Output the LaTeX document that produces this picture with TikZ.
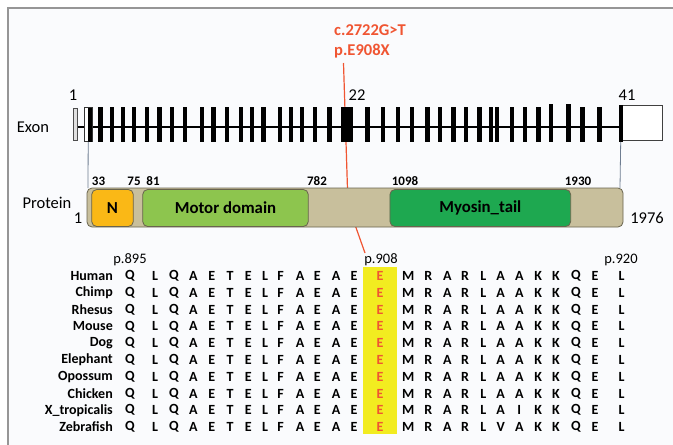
\documentclass[tikz,border=0pt]{standalone}
\usepackage{fontspec}
\setmainfont{Carlito}
\definecolor{bgc}{RGB}{250,251,253}
\definecolor{framec}{RGB}{150,150,150}
\definecolor{tanc}{RGB}{200,191,156}
\definecolor{protb}{RGB}{105,100,78}
\definecolor{nc}{RGB}{250,184,22}
\definecolor{motorc}{RGB}{141,197,78}
\definecolor{tailc}{RGB}{30,168,80}
\definecolor{redc}{RGB}{240,85,50}
\definecolor{yelc}{RGB}{242,236,32}
\definecolor{linkc}{RGB}{110,125,145}
\begin{document}
\begin{tikzpicture}[x=1pt,y=-1pt,
  lab/.style={inner sep=0pt,font=\fontsize{16.5}{18}\selectfont},
  num/.style={inner sep=0pt,font=\fontsize{13}{15}\selectfont\bfseries},
  dom/.style={inner sep=0pt,rounded corners=5pt,draw=protb,line width=0.8pt,minimum height=37pt},
  domtxt/.style={font=\fontsize{16.8}{18}\selectfont\bfseries},
  res/.style={inner sep=0pt,font=\fontsize{14}{16}\selectfont\bfseries},
  posl/.style={inner sep=0pt,font=\fontsize{14.5}{16}\selectfont},
  redlab/.style={inner sep=0pt,anchor=base west,text=redc,font=\fontsize{16.5}{18}\selectfont\bfseries}]
\useasboundingbox (0,0) rectangle (673,445);
\fill[white] (0,0) rectangle (673,445);
\fill[bgc] (8,8) rectangle (673,445);
\draw[framec,line width=1.5pt] (8,445) -- (8,8) -- (673,8);

% mutation labels and red line (behind the protein bar)
\node[redlab] (mutc) at (334,35.5) {c.2722G>T};
\node[redlab] (mutp) at (334,55.5) {p.E908X};
\node[posl] (p908) at (381,260) {p.908};
\coordinate (rtop) at (343.5,63);
\coordinate (rmid) at (348,205);
\coordinate (rbot) at (365,253);
\draw[redc,line width=1.2pt] (rtop) -- (rmid) -- (rbot);

% exon structure
\draw[line width=2.5pt] (77,127) -- (619,127);
\node[draw=black!70,fill=black!12,line width=0.7pt,inner sep=0pt,minimum width=4pt,minimum height=32pt] (ex1) at (75.3,124) {};
\node[draw=black!80,fill=white,line width=0.7pt,inner sep=0pt,minimum width=8.3pt,minimum height=34pt] (ex2) at (88.2,124.5) {};
\fill (88.3,107.5) rectangle (92.4,141.5);
\foreach \x in {100.5,111.7,122.7,134,146.7,159.3,171.7,185,201.7,213.3,226.7,240.7,251.7,263.3,280,291,301.7,315,329.3,
                367.3,382.7,397.7,411.7,427.3,440,453.3,466,479.3,491,496.7,511.7,525,538.3,582.3,599.3}
  \fill (\x-2.2,107) rectangle (\x+2.2,142);
\foreach \x in {550.7,568.3}
  \fill (\x-2.2,104) rectangle (\x+2.2,142);
\node[fill=black,inner sep=0pt,minimum width=11.5pt,minimum height=35pt] (ex22) at (346.8,124.5) {};
\node[draw=black!75,fill=white,line width=0.9pt,inner sep=0pt,minimum width=40pt,minimum height=35.7pt] (ex41b) at (642.7,122.9) {};
\node[fill=black,inner sep=0pt,minimum width=4pt,minimum height=36.7pt] (ex41) at (620.7,123.4) {};
\node[lab] (l1) at (73,95) {1};
\node[lab] (l22) at (357,95) {22};
\node[lab] (l41) at (627,95) {41};
\node[lab] (lexon) at (33,127) {Exon};

% protein
\node[dom,fill=tanc,minimum width=536pt,minimum height=39pt] (prot) at (355,207.5) {};
\node[dom,fill=nc,minimum width=41.6pt] (ndom) at (112.5,208) {};
\node[domtxt] at (ndom) {N};
\node[dom,fill=motorc,minimum width=165.6pt] (motor) at (225.5,208) {};
\node[domtxt] at (motor) {Motor domain};
\node[dom,fill=tailc,minimum width=180.7pt] (tail) at (480.3,208) {};
\node[domtxt] at (tail) {Myosin\_tail};
\node[num] (n33) at (98.5,181) {33};
\node[num] (n75) at (134,181) {75};
\node[num] (n81) at (153,181) {81};
\node[num] (n782) at (317,181) {782};
\node[num] (n1098) at (405,181) {1098};
\node[num] (n1930) at (578,181) {1930};
\node[lab] (lprot) at (47,203) {Protein};
\node[lab] (lp1) at (78,218) {1};
\node[lab] (lp1976) at (647,218) {1976};

% connectors exon -> protein
\draw[linkc,line width=0.8pt] (ex2.south) -- (88,188);
\draw[linkc,line width=0.8pt] (ex41.south) -- (620,188);

% alignment
\fill[yelc] (363.3,266.7) rectangle (396.7,434);
\node[posl] (p895) at (130,260) {p.895};
\node[posl] (p920) at (621,260) {p.920};
\foreach \name/\a/\b [count=\i from 0] in {Human/A/A,Chimp/A/A,Rhesus/A/A,Mouse/A/A,Dog/A/A,Elephant/A/A,Opossum/A/A,Chicken/A/A,X\_tropicalis/A/I,Zebrafish/V/A}{
  \node[res,anchor=east] (sp\i) at (113,{276+16.78*\i}) {\name};
  \foreach \x/\c [count=\j] in {130/Q,155/L,174/Q,193.3/A,211.7/E,230/T,248.3/E,265/L,280.7/F,300/A,317.3/E,336/A,354/E,
      408.3/M,428.3/R,447.3/A,465/R,483.3/L,500.7/\a,519.3/\b,538.3/K,556/K,576/Q,595/E,621.7/L}
    \node[res] (r\i-\j) at (\x,{276+16.78*\i}) {\c};
  \node[res,text=redc] (m\i) at (380,{276+16.78*\i}) {E};
}
\end{tikzpicture}
\end{document}
